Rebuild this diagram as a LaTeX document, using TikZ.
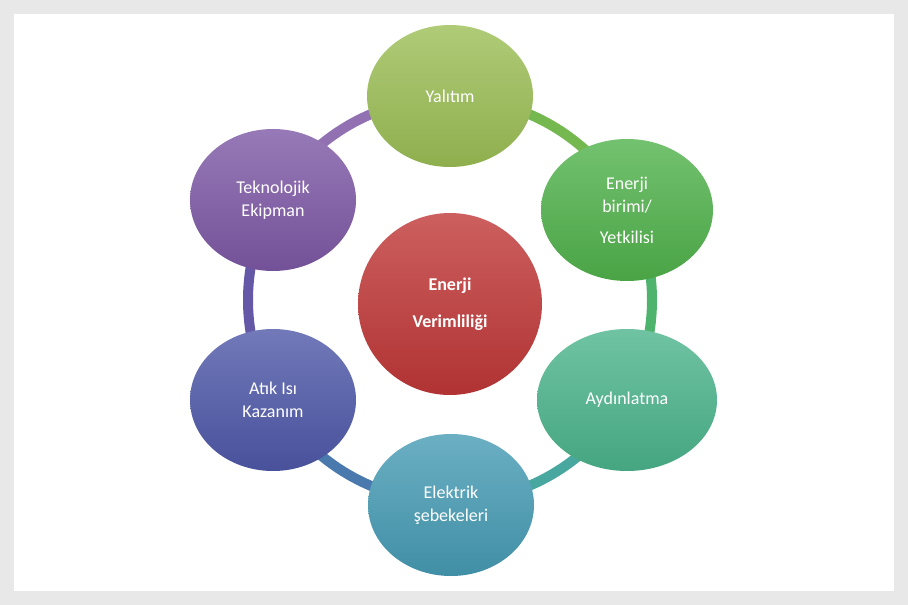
\documentclass[tikz,border=0pt]{standalone}
\usepackage{fontspec}
\setmainfont{Carlito}
\usetikzlibrary{shapes.geometric}
\definecolor{cyal}{RGB}{155,190,85}
\definecolor{cbir}{RGB}{80,178,75}
\definecolor{cayd}{RGB}{75,180,140}
\definecolor{celk}{RGB}{70,155,180}
\definecolor{catk}{RGB}{78,88,168}
\definecolor{ctek}{RGB}{125,88,165}
\definecolor{cmid}{RGB}{192,55,55}
\tikzset{
  ball/.style={ellipse, minimum width=166pt, minimum height=142pt,
    top color=#1!80!white, bottom color=#1!92!black, draw=none,
    text=white, font=\fontsize{18}{23}\selectfont, align=center},
  ring/.style={line width=10pt}
}
\begin{document}
\begin{tikzpicture}[x=1pt,y=-1pt]
  \fill[gray!18] (0,0) rectangle (908,605);
  \fill[white] (14,14) rectangle (894,591);
  \coordinate (c) at (450,300);
  % ring segments
  \draw[ring, cyal!50!cbir] ([shift={(27:202pt)}]c) arc (27:90:202pt);
  \draw[ring, cbir!50!cayd] ([shift={(-29:202pt)}]c) arc (-29:27:202pt);
  \draw[ring, cayd!50!celk] ([shift={(-90:202pt)}]c) arc (-90:-29:202pt);
  \draw[ring, celk!50!catk] ([shift={(-151:202pt)}]c) arc (-151:-90:202pt);
  \draw[ring, catk!50!ctek] ([shift={(151:202pt)}]c) arc (151:209:202pt);
  \draw[ring, ctek!85!white] ([shift={(90:202pt)}]c) arc (90:151:202pt);
  % nodes
  \node[ball=cyal] (yal) at (450,96) {Yalıtım};
  \node[ball=cbir, minimum width=172pt] (bir) at (627,210) {Enerji\\birimi/\\[8pt]Yetkilisi};
  \node[ball=cayd, minimum width=180pt] (ayd) at (627,400) {Aydınlatma};
  \node[ball=celk] (elk) at (451,505) {Elektrik\\şebekeleri};
  \node[ball=catk] (atk) at (273,400) {Atık Isı\\Kazanım};
  \node[ball=ctek] (tek) at (273,200) {Teknolojik\\Ekipman};
  \node[ball=cmid, minimum width=184pt, minimum height=182pt,
    font=\fontsize{18}{37}\selectfont\bfseries] (mid) at (450,304) {Enerji\\Verimliliği};
\end{tikzpicture}
\end{document}
